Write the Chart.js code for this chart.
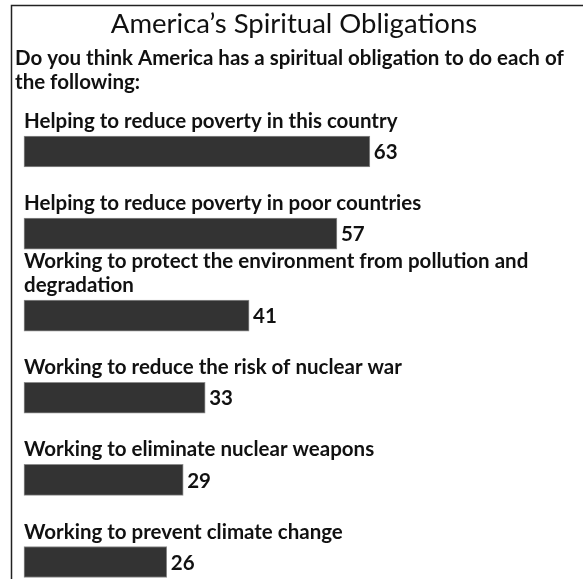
<!DOCTYPE html>
<html>
<head>
<meta charset="utf-8">
<script src="https://cdn.jsdelivr.net/npm/chart.js@4"></script>
<style>
  body { margin: 0; background: #fff; }
</style>
</head>
<body>
<canvas id="spiritChart" width="583" height="579"></canvas>
<script>
// -------- DATA --------
const titleText = 'America\u2019s Spiritual Obligations';
const subtitleLines = [
  'Do you think America has a spiritual obligation to do each of',
  'the following:'
];
const categories = [
  ['Helping to reduce poverty in this country'],
  ['Helping to reduce poverty in poor countries'],
  ['Working to protect the environment from pollution and', 'degradation'],
  ['Working to reduce the risk of nuclear war'],
  ['Working to eliminate nuclear weapons'],
  ['Working to prevent climate change']
];
const values = [63, 57, 41, 33, 29, 26];

const FONT = 'Lato, "Open Sans", sans-serif';

// frame: top and left rule like the original clipping
const framePlugin = {
  id: 'frame',
  beforeDraw(chart) {
    const ctx = chart.ctx;
    ctx.save();
    ctx.fillStyle = '#fff';
    ctx.fillRect(0, 0, chart.width, chart.height);
    ctx.strokeStyle = '#222';
    ctx.lineWidth = 1.5;
    ctx.beginPath();
    ctx.moveTo(11.5, chart.height);
    ctx.lineTo(11.5, 5.5);
    ctx.lineTo(chart.width, 5.5);
    ctx.stroke();
    ctx.restore();
  }
};

// category text above each bar, value at the bar end
const barTextPlugin = {
  id: 'barText',
  afterDatasetsDraw(chart) {
    const ctx = chart.ctx;
    const meta = chart.getDatasetMeta(0);
    ctx.save();
    ctx.fillStyle = '#111';
    ctx.font = 'bold 20.5px ' + FONT;
    meta.data.forEach((bar, i) => {
      const lines = categories[i];
      const top = bar.y - bar.height / 2;
      ctx.textAlign = 'left';
      ctx.textBaseline = 'alphabetic';
      lines.forEach((line, j) => {
        const y = top - 8 - (lines.length - 1 - j) * 24;
        ctx.fillText(line, chart.chartArea.left, y);
      });
      ctx.textBaseline = 'middle';
      ctx.fillText(String(values[i]), bar.x + 4, bar.y + 1);
    });
    ctx.restore();
  }
};

new Chart(document.getElementById('spiritChart'), {
  type: 'bar',
  data: {
    labels: categories,
    datasets: [{
      data: values,
      backgroundColor: '#333333',
      borderColor: '#8c8c8c',
      borderWidth: 1,
      borderSkipped: false,
      barThickness: 31,
      clip: false
    }]
  },
  options: {
    indexAxis: 'y',
    responsive: false,
    animation: false,
    layout: { padding: { left: 15, right: 10, top: 0, bottom: 17 } },
    scales: {
      x: { display: false, min: 0, max: 100 },
      y: {
        display: true,
        offset: false,
        ticks: { display: false },
        grid: { display: false },
        border: { display: false },
        afterFit: s => { s.width = 9; }
      }
    },
    plugins: {
      legend: { display: false },
      tooltip: { enabled: false },
      title: {
        display: true,
        text: titleText,
        color: '#111',
        font: { family: FONT, size: 27.5, weight: 'normal', lineHeight: 1.2 },
        padding: { top: 7.5, bottom: 0 }
      },
      subtitle: {
        display: true,
        text: subtitleLines,
        align: 'start',
        color: '#111',
        font: { family: FONT, size: 20.5, weight: 'bold', lineHeight: 1.17 },
        padding: { top: 5.5, bottom: 57.5 }
      }
    }
  },
  plugins: [framePlugin, barTextPlugin]
});
</script>
</body>
</html>
